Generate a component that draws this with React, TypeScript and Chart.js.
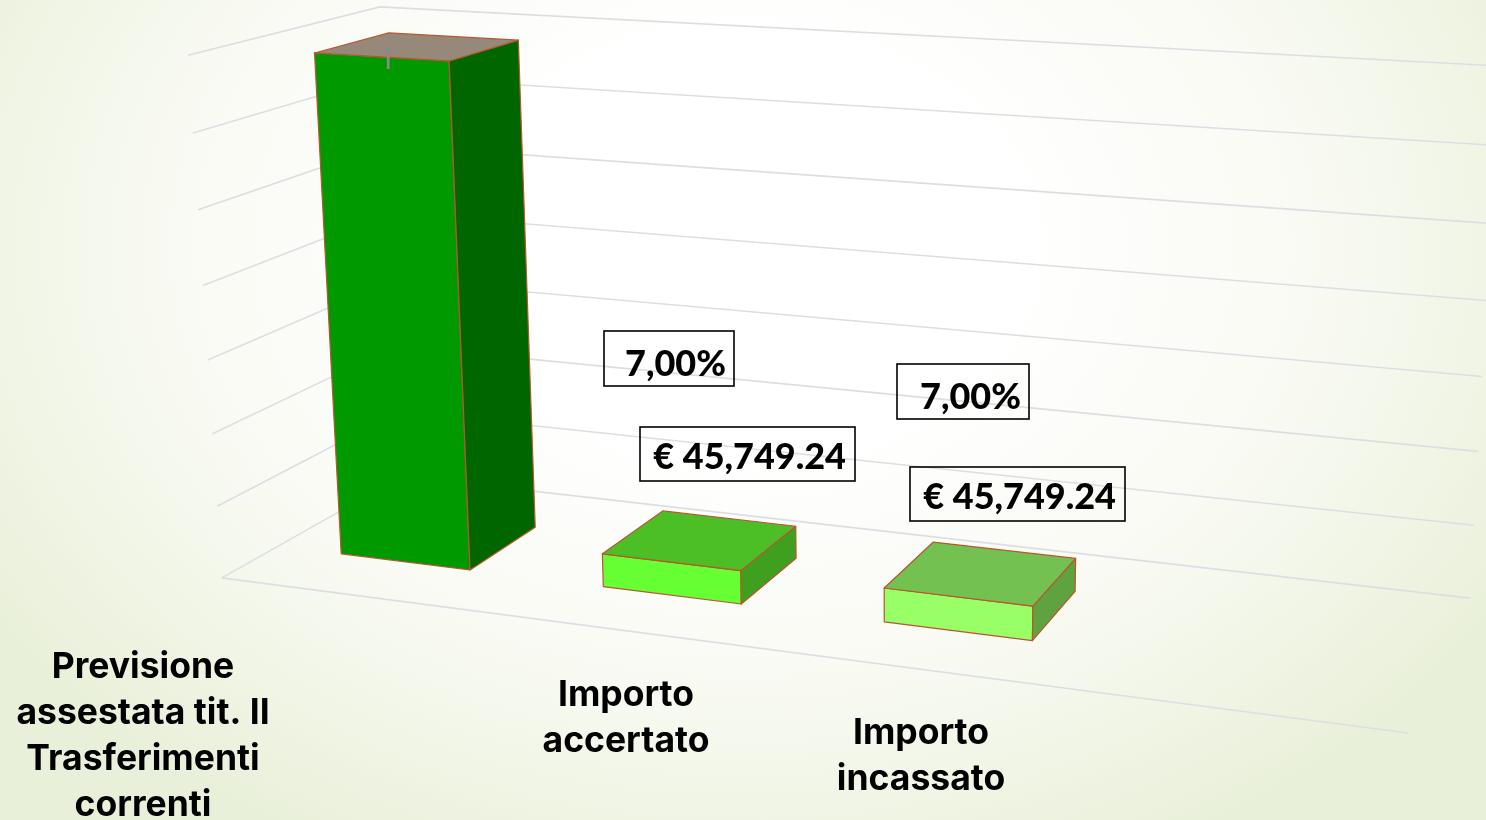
import React, { useEffect, useRef } from "react";
import { Chart, registerables, BarController } from "chart.js";

Chart.register(...registerables);

// ---- data ----
const categories = ["Previsione assestata tit. II Trasferimenti correnti", "Importo accertato", "Importo incassato", ""];
const amounts: (number | null)[] = [688000, 45749.24, 45749.24, null];
const amountLabels = ["", "€ 45,749.24", "€ 45,749.24", ""];
const percentLabels = ["", "7,00%", "7,00%", ""];
const topMarker = "1";
const yMax = 700000;
const yStep = 100000;

// ---- style ----
const W = 1486;
const H = 820;
const AXIS_FONT = "bold 35.5px Inter, Lato, sans-serif";
const BOX_FONT = "900 36px Lato, 'Open Sans', sans-serif";
const frontColors = ["#009900", "#66FF33", "#99FF66", "#000000"];
const sideColors = ["#006600", "#3FA01F", "#5FA340", "#000000"];
const topColors = ["#96897A", "#4DBF26", "#73C251", "#000000"];
const edgeColor = "#B9562F";
const gridColor = "#DEDEE2";
const depthRange = [0.29, 0.69];

const labelLines = [
  ["Previsione", "assestata tit. II", "Trasferimenti", "correnti"],
  ["Importo", "accertato"],
  ["Importo", "incassato"],
];
const labelAnchors = [[143, 667], [626, 695], [921, 733]];
const amountBoxes = [null, [640, 427, 215, 54], [910, 467, 215, 54]];
const percentBoxes = [null, [604, 331, 130, 55], [897, 364, 132, 55]];

// Camera calibration: (u, v, z) in plot fractions -> page position.
const calibration = [
  [0, 0, 0, 222, 578],
  [1, 0, 0, 1408, 733],
  [1, 0, 1, 1470, 598],
  [0, 0, 1, 402, 476],
  [0, 1, 1, 380, 7],
  [1, 1, 1, 1499, 66],
  [0, 1, 0, 188, 55],
];

function solveCamera(pts: number[][]) {
  const rows: number[][] = [];
  const rhs: number[] = [];
  for (const [u, v, z, sx, sy] of pts) {
    rows.push([u, v, z, 1, 0, 0, 0, 0, -sx * u, -sx * v, -sx * z]);
    rhs.push(sx);
    rows.push([0, 0, 0, 0, u, v, z, 1, -sy * u, -sy * v, -sy * z]);
    rhs.push(sy);
  }
  const n = 11;
  const A: number[][] = [];
  for (let i = 0; i < n; i++) {
    const line = new Array(n + 1).fill(0);
    rows.forEach((r, k) => {
      for (let j = 0; j < n; j++) line[j] += r[i] * r[j];
      line[n] += r[i] * rhs[k];
    });
    A.push(line);
  }
  for (let c = 0; c < n; c++) {
    let best = c;
    for (let r = c + 1; r < n; r++) if (Math.abs(A[r][c]) > Math.abs(A[best][c])) best = r;
    [A[c], A[best]] = [A[best], A[c]];
    for (let r = 0; r < n; r++) {
      if (r === c) continue;
      const f = A[r][c] / A[c][c];
      for (let j = c; j <= n; j++) A[r][j] -= f * A[c][j];
    }
  }
  return A.map((l, i) => l[n] / l[i]);
}
const cam = solveCamera(calibration);
function project(u: number, v: number, z: number): [number, number] {
  const d = cam[8] * u + cam[9] * v + cam[10] * z + 1;
  return [
    (cam[0] * u + cam[1] * v + cam[2] * z + cam[3]) / d,
    (cam[4] * u + cam[5] * v + cam[6] * z + cam[7]) / d,
  ];
}

function poly(ctx: CanvasRenderingContext2D, pts: [number, number][], fill: string) {
  ctx.beginPath();
  pts.forEach((p, i) => (i ? ctx.lineTo(p[0], p[1]) : ctx.moveTo(p[0], p[1])));
  ctx.closePath();
  ctx.fillStyle = fill;
  ctx.fill();
  ctx.strokeStyle = edgeColor;
  ctx.lineWidth = 1.2;
  ctx.lineJoin = "round";
  ctx.stroke();
}

class Bar3DController extends BarController {
  static id = "bar3d";
  static defaults = BarController.defaults;
  static overrides = BarController.overrides;
  draw() {
    const chart = this.chart;
    const ctx = chart.ctx;
    const area = chart.chartArea;
    const meta = this.getMeta();
    const aw = area.right - area.left;
    const ah = area.bottom - area.top;
    meta.data.forEach((el: any, i: number) => {
      const raw = amounts[i];
      if (raw === null || raw === undefined) return;
      const u0 = (el.x - el.width / 2 - area.left) / aw;
      const u1 = (el.x + el.width / 2 - area.left) / aw;
      const v1 = (area.bottom - el.y) / ah;
      const [z0, z1] = depthRange;
      poly(ctx, [project(u0, 0, z0), project(u1, 0, z0), project(u1, v1, z0), project(u0, v1, z0)], frontColors[i]);
      poly(ctx, [project(u1, 0, z0), project(u1, 0, z1), project(u1, v1, z1), project(u1, v1, z0)], sideColors[i]);
      poly(ctx, [project(u0, v1, z0), project(u1, v1, z0), project(u1, v1, z1), project(u0, v1, z1)], topColors[i]);
    });
  }
}
Chart.register(Bar3DController);

const wallsPlugin = {
  id: "walls",
  beforeDatasetsDraw(chart: any) {
    const { ctx, chartArea: a, scales } = chart;
    const ah = a.bottom - a.top;
    ctx.save();
    ctx.strokeStyle = gridColor;
    ctx.lineWidth = 1.6;
    ctx.lineJoin = "round";
    scales.y.ticks.forEach((t: any) => {
      const v = (a.bottom - scales.y.getPixelForValue(t.value)) / ah;
      const p = [project(0, v, 0), project(0, v, 1), project(1, v, 1)];
      ctx.beginPath();
      ctx.moveTo(p[0][0], p[0][1]);
      ctx.lineTo(p[1][0], p[1][1]);
      ctx.lineTo(p[2][0], p[2][1]);
      ctx.stroke();
    });
    const f0 = project(0, 0, 0);
    const f1 = project(1, 0, 0);
    ctx.beginPath();
    ctx.moveTo(f0[0], f0[1]);
    ctx.lineTo(f1[0], f1[1]);
    ctx.stroke();
    ctx.restore();
  },
};

const textPlugin = {
  id: "texts",
  afterDatasetsDraw(chart: any) {
    const ctx = chart.ctx as CanvasRenderingContext2D;
    ctx.save();
    ctx.font = AXIS_FONT;
    ctx.fillStyle = "#000000";
    ctx.textBaseline = "middle";
    ctx.textAlign = "center";
    labelLines.forEach((lines, i) => {
      lines.forEach((s, k) => {
        ctx.fillText(s, labelAnchors[i][0], labelAnchors[i][1] + k * 46);
      });
    });
    ctx.font = BOX_FONT;
    ctx.strokeStyle = "#000000";
    ctx.lineWidth = 1.6;
    [percentBoxes, amountBoxes].forEach((boxes, g) => {
      const texts = g === 0 ? percentLabels : amountLabels;
      boxes.forEach((b, i) => {
        if (!b) return;
        ctx.strokeRect(b[0], b[1], b[2], b[3]);
        ctx.textAlign = "right";
        ctx.fillText(texts[i], b[0] + b[2] - (g === 0 ? 8 : 9), b[1] + b[3] / 2 + (g === 0 ? 6 : 3));
      });
    });
    ctx.font = "30px Inter, sans-serif";
    ctx.fillStyle = "#8A8A8A";
    ctx.textAlign = "center";
    ctx.fillText(topMarker, 386, 60);
    ctx.restore();
  },
};

export default function App() {
  const ref = useRef<HTMLCanvasElement>(null);
  useEffect(() => {
    const chart = new Chart(ref.current as HTMLCanvasElement, {
      type: "bar3d" as any,
      data: {
        labels: categories,
        datasets: [
          {
            label: "Importi",
            data: amounts,
            backgroundColor: frontColors,
            barPercentage: 0.5,
            categoryPercentage: 1,
          } as any,
        ],
      },
      options: {
        animation: false,
        responsive: false,
        layout: { padding: 0 },
        plugins: { legend: { display: false }, tooltip: { enabled: false }, title: { display: false } },
        scales: {
          x: { type: "category", display: false, offset: true },
          y: { type: "linear", display: false, min: 0, max: yMax, ticks: { stepSize: yStep } },
        },
      } as any,
      plugins: [wallsPlugin, textPlugin],
    });
    return () => chart.destroy();
  }, []);
  return (
    <div
      style={{
        position: "fixed",
        left: 0,
        top: 0,
        width: W,
        height: H,
        overflow: "hidden",
        background:
          "radial-gradient(ellipse 900px 680px at 50% 30%, #FFFFFF 30%, #F8FAF2 65%, #E9F0D9 100%)",
      }}
    >
      <canvas ref={ref} width={W} height={H} style={{ display: "block" }} />
    </div>
  );
}
